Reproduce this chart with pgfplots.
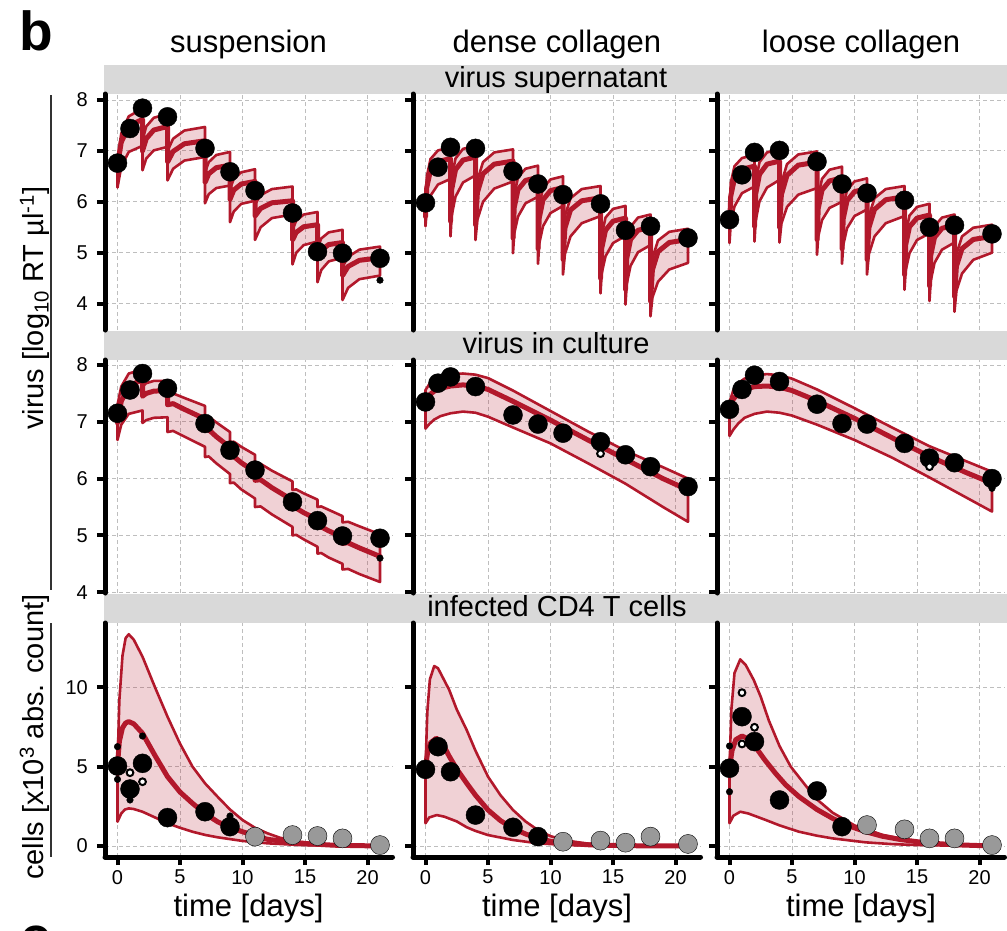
\documentclass[border=0pt]{standalone}
\usepackage{fontspec}
\setmainfont{Liberation Sans}
\usepackage{pgfplots}
\pgfplotsset{compat=1.18}
\definecolor{bandred}{RGB}{178,24,43}
\definecolor{gridgray}{RGB}{190,190,190}
\definecolor{stripgray}{RGB}{217,217,217}
\definecolor{ptgray}{RGB}{153,153,153}
\newcommand{\tlfont}{\fontsize{20}{20}\selectfont}
\pgfplotsset{
 panel/.style={
   scale only axis, width=287.5pt,
   xmin=-1, xmax=22,
   axis x line*=bottom, axis y line*=left,
   axis line style={-},
   xtick={0,5,10,15,20},
   grid=major,
   major grid style={gridgray, line width=1pt, dash pattern=on 4pt off 3pt},
   y axis line style={line width=5pt, line cap=round},
   x axis line style={line width=5pt, line cap=round},
   tick align=outside,
   major tick length=8pt,
   tick style={black, line width=4pt},
   /pgf/number format/assume math mode=true,
   xticklabel={\mbox{\tlfont\pgfmathprintnumber{\tick}}},
   yticklabel={\mbox{\tlfont\pgfmathprintnumber{\tick}}},
   xticklabel style={anchor=north, inner sep=0pt, yshift=-5pt},
   yticklabel style={anchor=east, inner sep=0pt, xshift=-9pt},
   clip marker paths=false,
 },
 norowx/.style={x axis line style={draw=none}, xticklabels={}, xtick style={draw=none}},
 nocoly/.style={yticklabels={}},
 row1/.style={height=236pt, ymin=3.481, ymax=8.118, ytick={4,5,6,7,8}},
 row2/.style={height=233pt, ymin=3.986, ymax=8.088, ytick={4,5,6,7,8}},
 row3/.style={height=234pt, ymin=-0.693, ymax=14.05, ytick={0,5,10}},
 band/.style={draw=bandred, line width=2.6pt, fill=bandred, fill opacity=0.2, line join=round, no markers},
 med/.style={draw=bandred, line width=5pt, line join=round, line cap=round, no markers},
 bigpt/.style={only marks, mark=*, mark size=9.5pt, mark options={draw=none, fill=black}},
 smallpt/.style={only marks, mark=*, mark size=3.3pt, mark options={draw=none, fill=black}},
 ringpt/.style={only marks, mark=*, mark size=3.4pt, mark options={draw=black, fill=white, line width=2pt}},
 graypt/.style={only marks, mark=*, mark size=9.5pt, mark options={draw=none, fill=ptgray}},
}
\begin{document}
\begin{tikzpicture}
\useasboundingbox (0,0) rectangle (1007pt,-930pt);
% strips
\fill[stripgray] (104pt,-65pt) rectangle (1007pt,-94pt);
\fill[stripgray] (104pt,-331pt) rectangle (1007pt,-360pt);
\fill[stripgray] (104pt,-594pt) rectangle (1007pt,-623pt);
\node[anchor=base, font=\fontsize{29}{34}\selectfont] at (556pt,-87pt) {virus supernatant};
\node[anchor=base, font=\fontsize{29}{34}\selectfont] at (556pt,-353pt) {virus in culture};
\node[anchor=base, font=\fontsize{29}{34}\selectfont] at (557pt,-616pt) {infected CD4 T cells};
% titles
\node[anchor=base west, inner sep=0pt, font=\fontsize{55}{60}\selectfont\bfseries] at (19.5pt,-50pt) {b};
\node[anchor=base west, inner sep=0pt, font=\fontsize{55}{60}\selectfont\bfseries] at (20pt,-955pt) {c};
\node[anchor=base, font=\fontsize{31}{36}\selectfont] at (248.5pt,-52pt) {suspension};
\node[anchor=base, font=\fontsize{31}{36}\selectfont] at (557pt,-52pt) {dense collagen};
\node[anchor=base, font=\fontsize{31}{36}\selectfont] at (861pt,-52pt) {loose collagen};
\foreach \cx in {248.5,557,861}{
  \node[anchor=base, font=\fontsize{31}{36}\selectfont] at (\cx pt,-916pt) {time [days]};
}
\node[rotate=90, anchor=base west, inner sep=0pt, font=\fontsize{29}{34}\selectfont] at (43pt,-430pt) {virus [log\textsubscript{10} RT µl\textsuperscript{-1}]};
\node[rotate=90, anchor=base west, inner sep=0pt, font=\fontsize{29}{34}\selectfont] at (43pt,-880pt) {cells [x10\textsuperscript{3} abs. count]};
\draw[line width=2pt, black!80] (51pt,-95pt) -- (51pt,-590pt);
\draw[line width=2pt, black!80] (51pt,-623pt) -- (51pt,-857pt);

% ===== Row 1 col 1 =====
\begin{axis}[panel, row1, norowx, at={(105pt,-94pt)}, anchor=north west]
\addplot[bigpt] coordinates {(0,6.76)(1,7.44)(2,7.84)(4,7.67)(7,7.05)(9,6.59)(11,6.22)(14,5.78)(16,5.02)(18,4.99)(21,4.89)};
\addplot[smallpt] coordinates {(21,4.46)};
\addplot[band] coordinates {
(0,6.85)(0.3,7.34)(0.9,7.68)(2,7.83)(2,7.22)(2.3,7.48)(2.9,7.65)(4,7.73)(4,7.0)(4.45,7.24)(5.35,7.40)(7,7.47)(7,6.58)(7.3,6.78)(7.9,6.92)(9,6.98)(9,6.25)(9.3,6.45)(9.9,6.58)(11,6.64)(11,5.95)(11.45,6.13)(12.35,6.25)(14,6.3)(14,5.45)(14.3,5.63)(14.9,5.75)(16,5.8)(16,5.1)(16.3,5.28)(16.9,5.40)(18,5.45)(18,4.72)(18.45,4.92)(19.35,5.06)(21,5.12)
(21,4.55)(19.35,4.48)(18.45,4.31)(18,4.07)(18,4.9)(16.9,4.83)(16.3,4.66)(16,4.42)(16,5.22)(14.9,5.15)(14.3,5.0)(14,4.77)(14,5.75)(12.35,5.68)(11.45,5.5)(11,5.25)(11,6.02)(9.9,5.96)(9.3,5.81)(9,5.6)(9,6.32)(7.9,6.27)(7.3,6.15)(7,5.97)(7,6.88)(5.35,6.81)(4.45,6.65)(4,6.42)(4,7.08)(2.9,7.01)(2.3,6.85)(2,6.62)(2,7.1)(0.9,6.98)(0.3,6.69)(0,6.28)} --cycle;
\addplot[med] coordinates {(0,6.72)(0.3,7.17)(0.9,7.49)(2,7.62)(2,7.0)(2.3,7.24)(2.9,7.41)(4,7.48)(4,6.78)(4.45,6.99)(5.35,7.14)(7,7.2)(7,6.38)(7.3,6.55)(7.9,6.67)(9,6.72)(9,6.05)(9.3,6.23)(9.9,6.35)(11,6.4)(11,5.72)(11.45,5.87)(12.35,5.98)(14,6.02)(14,5.25)(14.3,5.4)(14.9,5.51)(16,5.55)(16,4.9)(16.3,5.05)(16.9,5.16)(18,5.2)(18,4.55)(18.45,4.73)(19.35,4.85)(21,4.9)};
\end{axis}

% ===== Row 1 col 2 =====
\begin{axis}[panel, row1, norowx, nocoly, at={(413pt,-94pt)}, anchor=north west]
\addplot[bigpt] coordinates {(0,5.98)(1,6.68)(2,7.07)(4,7.05)(7,6.6)(9,6.35)(11,6.14)(14,5.96)(16,5.44)(18,5.52)(21,5.29)};
\addplot[band] coordinates {
(0,5.9)(0.1,6.49)(0.4,6.84)(1,7.01)(2,7.07)
(2,5.87)(2.1,6.49)(2.4,6.85)(3,7.04)(4,7.1)
(4,5.8)(4.15,6.42)(4.6,6.78)(5.5,6.97)(7,7.03)
(7,5.55)(7.1,6.13)(7.4,6.48)(8,6.65)(9,6.71)
(9,5.33)(9.1,5.92)(9.4,6.27)(10,6.44)(11,6.5)
(11,5.12)(11.15,5.72)(11.6,6.07)(12.5,6.25)(14,6.31)
(14,4.75)(14.1,5.34)(14.4,5.69)(15,5.86)(16,5.92)
(16,4.53)(16.1,5.14)(16.4,5.51)(17,5.69)(18,5.75)
(18,4.3)(18.15,4.89)(18.6,5.24)(19.5,5.41)(21,5.47)
(21,4.8)(19.5,4.67)(18.6,4.43)(18.15,4.12)(18,3.75)
(18,5.15)(17,5.01)(16.4,4.74)(16.1,4.39)(16,3.98)
(16,5.33)(15,5.19)(14.4,4.93)(14.1,4.6)(14,4.2)
(14,5.72)(12.5,5.58)(11.6,5.32)(11.15,4.97)(11,4.57)
(11,5.92)(10,5.78)(9.4,5.52)(9.1,5.18)(9,4.78)
(9,6.1)(8,5.97)(7.4,5.71)(7.1,5.38)(7,4.99)
(7,6.4)(5.5,6.26)(4.6,6.0)(4.15,5.65)(4,5.25)
(4,6.52)(3,6.38)(2.4,6.1)(2.1,5.74)(2,5.32)
(2,6.45)(1,6.34)(0.4,6.12)(0.1,5.85)(0,5.52)} --cycle;
\addplot[med] coordinates {(0,5.71)(0.1,6.28)(0.4,6.62)(1,6.79)(2,6.85)(2,5.62)(2.1,6.25)(2.4,6.63)(3,6.82)(4,6.88)(4,5.55)(4.15,6.18)(4.6,6.55)(5.5,6.74)(7,6.8)(7,5.29)(7.1,5.89)(7.4,6.24)(8,6.42)(9,6.48)(9,5.08)(9.1,5.68)(9.4,6.04)(10,6.22)(11,6.28)(11,4.87)(11.15,5.48)(11.6,5.84)(12.5,6.02)(14,6.08)(14,4.5)(14.1,5.09)(14.4,5.44)(15,5.62)(16,5.68)(16,4.28)(16.1,4.89)(16.4,5.26)(17,5.44)(18,5.5)(18,4.05)(18.15,4.66)(18.6,5.02)(19.5,5.2)(21,5.26)};
\end{axis}

% ===== Row 1 col 3 =====
\begin{axis}[panel, row1, norowx, nocoly, at={(717pt,-94pt)}, anchor=north west]
\addplot[bigpt] coordinates {(0,5.65)(1,6.53)(2,6.97)(4,7.01)(7,6.79)(9,6.35)(11,6.17)(14,6.03)(16,5.5)(18,5.54)(21,5.37)};
\addplot[band] coordinates {
(0,5.81)(0.1,6.37)(0.4,6.7)(1,6.86)(2,6.92)
(2,5.77)(2.1,6.4)(2.4,6.78)(3,6.97)(4,7.03)
(4,5.75)(4.15,6.37)(4.6,6.74)(5.5,6.93)(7,6.99)
(7,5.51)(7.1,6.1)(7.4,6.45)(8,6.63)(9,6.69)
(9,5.33)(9.1,5.9)(9.4,6.23)(10,6.4)(11,6.46)
(11,5.12)(11.15,5.72)(11.6,6.07)(12.5,6.25)(14,6.31)
(14,4.82)(14.1,5.39)(14.4,5.73)(15,5.9)(16,5.96)
(16,4.6)(16.1,5.18)(16.4,5.52)(17,5.69)(18,5.75)
(18,4.39)(18.15,4.97)(18.6,5.32)(19.5,5.49)(21,5.55)
(21,5.0)(19.5,4.86)(18.6,4.59)(18.15,4.25)(18,3.84)
(18,5.2)(17,5.06)(16.4,4.8)(16.1,4.45)(16,4.05)
(16,5.38)(15,5.25)(14.4,4.99)(14.1,4.66)(14,4.27)
(14,5.72)(12.5,5.58)(11.6,5.32)(11.15,4.97)(11,4.57)
(11,5.85)(10,5.72)(9.4,5.48)(9.1,5.15)(9,4.78)
(9,6.0)(8,5.88)(7.4,5.64)(7.1,5.32)(7,4.96)
(7,6.27)(5.5,6.14)(4.6,5.9)(4.15,5.57)(4,5.2)
(4,6.43)(3,6.28)(2.4,6.01)(2.1,5.64)(2,5.22)
(2,6.3)(1,6.17)(0.4,5.91)(0.1,5.58)(0,5.19)} --cycle;
\addplot[med] coordinates {(0,5.52)(0.1,6.11)(0.4,6.46)(1,6.64)(2,6.7)(2,5.52)(2.1,6.16)(2.4,6.54)(3,6.74)(4,6.8)(4,5.5)(4.15,6.14)(4.6,6.52)(5.5,6.72)(7,6.78)(7,5.26)(7.1,5.87)(7.4,6.23)(8,6.41)(9,6.47)(9,5.08)(9.1,5.67)(9.4,6.02)(10,6.2)(11,6.26)(11,4.87)(11.15,5.49)(11.6,5.85)(12.5,6.04)(14,6.1)(14,4.57)(14.1,5.16)(14.4,5.51)(15,5.68)(16,5.74)(16,4.35)(16.1,4.95)(16.4,5.3)(17,5.48)(18,5.54)(18,4.14)(18.15,4.73)(18.6,5.08)(19.5,5.26)(21,5.32)};
\end{axis}

% ===== Row 2 col 1 =====
\begin{axis}[panel, row2, norowx, at={(105pt,-360pt)}, anchor=north west]
\addplot[bigpt] coordinates {(0,7.15)(1,7.56)(2,7.85)(4,7.59)(7,6.97)(9,6.5)(11,6.15)(14,5.59)(16,5.26)(18,4.99)(21,4.95)};
\addplot[smallpt] coordinates {(21,4.6)};
\addplot[band] coordinates {
(0,7.3)(0.3,7.62)(0.9,7.85)(2,7.92)(2,7.62)(2.3,7.68)(2.9,7.72)(4,7.72)(4,7.48)(4.45,7.5)(5.35,7.42)(7,7.28)(7,7.08)(7.3,7.09)(7.9,6.99)(9,6.82)(9,6.64)(9.3,6.65)(9.9,6.56)(11,6.42)(11,6.25)(11.45,6.26)(12.35,6.14)(14,5.95)(14,5.8)(14.3,5.81)(14.9,5.74)(16,5.63)(16,5.5)(16.3,5.51)(16.9,5.45)(18,5.34)(18,5.23)(18.45,5.24)(19.35,5.16)(21,5.02)
(21,4.18)(19.35,4.32)(18.45,4.41)(18,4.4)(18,4.5)(16.9,4.61)(16.3,4.69)(16,4.68)(16,4.8)(14.9,4.93)(14.3,5.01)(14,5.0)(14,5.15)(12.35,5.37)(11.45,5.51)(11,5.5)(11,5.65)(9.9,5.81)(9.3,5.93)(9,5.92)(9,6.08)(7.9,6.27)(7.3,6.39)(7,6.38)(7,6.56)(5.35,6.74)(4.45,6.84)(4,6.82)(4,7.08)(2.9,7.07)(2.3,7.03)(2,6.98)(2,7.2)(0.9,7.14)(0.3,6.95)(0,6.68)} --cycle;
\addplot[med] coordinates {(0,6.98)(0.3,7.36)(0.9,7.63)(2,7.74)(2,7.45)(2.3,7.5)(2.9,7.54)(4,7.55)(4,7.3)(4.45,7.32)(5.35,7.22)(7,7.05)(7,6.85)(7.3,6.86)(7.9,6.74)(9,6.55)(9,6.38)(9.3,6.39)(9.9,6.28)(11,6.12)(11,5.97)(11.45,5.98)(12.35,5.84)(14,5.62)(14,5.47)(14.3,5.48)(14.9,5.4)(16,5.28)(16,5.14)(16.3,5.15)(16.9,5.08)(18,4.97)(18,4.86)(18.45,4.87)(19.35,4.78)(21,4.63)};
\end{axis}

% ===== Row 2 col 2 =====
\begin{axis}[panel, row2, norowx, nocoly, at={(413pt,-360pt)}, anchor=north west]
\addplot[bigpt] coordinates {(0,7.35)(1,7.68)(2,7.79)(4,7.62)(7,7.12)(9,6.96)(11,6.8)(14,6.65)(16,6.42)(18,6.21)(21,5.86)};
\addplot[ringpt] coordinates {(14,6.44)};
\addplot[band] coordinates {
(0,7.56)(0.3,7.66)(0.7,7.75)(1.2,7.8)(2,7.84)(3,7.85)(4,7.83)(5,7.77)(7,7.55)(10,7.19)(13,6.83)(16,6.49)(19,6.2)(21,6.0)
(21,5.24)(19,5.5)(16,5.91)(13,6.27)(10,6.62)(7,6.9)(5,7.09)(4,7.16)(3,7.18)(2,7.15)(1.2,7.1)(0.7,7.04)(0.3,6.96)(0,6.88)} --cycle;
\addplot[med] coordinates {(0,7.38)(0.3,7.47)(0.7,7.54)(1.2,7.59)(2,7.63)(3,7.65)(4,7.63)(5,7.57)(7,7.36)(10,7.03)(13,6.68)(16,6.34)(19,6.0)(21,5.8)};
\end{axis}

% ===== Row 2 col 3 =====
\begin{axis}[panel, row2, norowx, nocoly, at={(717pt,-360pt)}, anchor=north west]
\addplot[bigpt] coordinates {(0,7.22)(1,7.57)(2,7.82)(4,7.71)(7,7.31)(9,6.97)(11,6.96)(14,6.62)(16,6.36)(18,6.28)(21,6.0)};
\addplot[ringpt] coordinates {(16,6.21)};
\addplot[smallpt] coordinates {(21,5.83)};
\addplot[band] coordinates {
(0,7.35)(0.3,7.55)(0.7,7.68)(1.2,7.76)(2,7.82)(3,7.84)(4,7.82)(5,7.76)(7,7.57)(10,7.24)(13,6.9)(16,6.57)(19,6.3)(21,6.12)
(21,5.42)(19,5.66)(16,6.02)(13,6.37)(10,6.68)(7,6.95)(5,7.11)(4,7.16)(3,7.18)(2,7.14)(1.2,7.07)(0.7,6.97)(0.3,6.86)(0,6.75)} --cycle;
\addplot[med] coordinates {(0,7.24)(0.3,7.4)(0.7,7.5)(1.2,7.57)(2,7.62)(3,7.63)(4,7.61)(5,7.55)(7,7.37)(10,7.06)(13,6.72)(16,6.39)(19,6.1)(21,5.92)};
\end{axis}

% ===== Row 3 col 1 =====
\begin{axis}[panel, row3, at={(105pt,-623pt)}, anchor=north west]
\addplot[graypt] coordinates {(11,0.59)(14,0.69)(16,0.63)(18,0.48)(21,0.06)};
\addplot[bigpt] coordinates {(0,5.04)(1,3.59)(2,5.21)(4,1.79)(7,2.16)(9,1.22)};
\addplot[smallpt] coordinates {(0,6.26)(0,4.2)(1,2.9)(2,6.93)(9,1.89)};
\addplot[ringpt] coordinates {(1,4.62)(2,4.05)};
\addplot[band] coordinates {
(0,5.1)(0.15,9.2)(0.4,12.0)(0.65,13.1)(0.9,13.34)(1.3,13.0)(2,11.93)(3,10.0)(4,8.15)(5,6.45)(6,5.0)(7,3.95)(8,3.11)(9,2.3)(10,1.64)(11,1.15)(12,0.8)(13,0.52)(14.6,0.27)(17.3,0.06)(21,0.0)
(21,0.0)(17,0.02)(14.6,0.06)(12,0.17)(10,0.32)(8,0.55)(7,0.7)(6,0.9)(5,1.15)(4,1.43)(3,1.8)(2,2.16)(1.3,2.33)(0.9,2.37)(0.6,2.3)(0.3,2.05)(0,1.53)} --cycle;
\addplot[med] coordinates {(0,5.1)(0.15,6.6)(0.4,7.45)(0.65,7.75)(0.9,7.84)(1.3,7.7)(2,7.1)(3,5.7)(4,4.37)(5,3.4)(6,2.69)(7,2.05)(8,1.53)(9,1.17)(10,0.9)(12,0.42)(14.6,0.17)(17.3,0.05)(21,0.0)};
\end{axis}

% ===== Row 3 col 2 =====
\begin{axis}[panel, row3, nocoly, at={(413pt,-623pt)}, anchor=north west]
\addplot[graypt] coordinates {(11,0.27)(14,0.34)(16,0.21)(18,0.59)(21,0.13)};
\addplot[bigpt] coordinates {(0,4.83)(1,6.26)(2,4.68)(4,1.95)(7,1.18)(9,0.59)};
\addplot[band] coordinates {
(0,5.0)(0.15,8.5)(0.35,10.5)(0.7,11.34)(1.0,11.2)(1.9,9.83)(2.5,8.6)(3.3,7.3)(4,6.0)(5,4.37)(6,3.2)(7,2.27)(8,1.55)(9,1.0)(10,0.62)(11.3,0.34)(13,0.15)(14.6,0.08)(17,0.03)(21,0.0)
(21,0.0)(14,0.02)(11.3,0.06)(9,0.17)(7,0.38)(5,0.69)(4,0.95)(3.3,1.18)(2.5,1.55)(1.5,1.85)(0.9,1.95)(0.3,1.8)(0,1.43)} --cycle;
\addplot[med] coordinates {(0,5.0)(0.15,5.8)(0.4,6.5)(0.86,6.79)(1.3,6.55)(1.9,5.65)(2.5,4.85)(3.3,3.95)(4,3.2)(5,2.27)(6,1.6)(7,1.11)(8,0.76)(9,0.48)(10,0.3)(11.3,0.17)(13,0.08)(16,0.02)(21,0.0)};
\end{axis}

% ===== Row 3 col 3 =====
\begin{axis}[panel, row3, nocoly, at={(717pt,-623pt)}, anchor=north west]
\addplot[graypt] coordinates {(11,1.32)(14,1.05)(16,0.48)(18,0.48)(21,0.06)};
\addplot[bigpt] coordinates {(0,4.9)(1,8.15)(2,6.58)(4,2.9)(7,3.47)(9,1.22)};
\addplot[smallpt] coordinates {(0,6.3)(0,3.42)};
\addplot[ringpt] coordinates {(1,9.66)(1,6.43)(2,7.48)};
\addplot[band] coordinates {
(0,4.9)(0.15,8.6)(0.4,10.9)(0.86,11.76)(1.3,11.4)(1.94,10.46)(2.5,9.4)(3.15,7.9)(4,6.3)(4.9,5.0)(5.6,4.3)(6.9,3.0)(8.25,2.1)(10,1.3)(12.3,0.69)(15,0.27)(17.7,0.1)(21,0.0)
(21,0.0)(18,0.02)(15,0.06)(13,0.12)(10.9,0.23)(8.25,0.48)(7,0.65)(5.56,0.9)(4,1.3)(2.9,1.64)(1.5,2.05)(0.86,2.16)(0.3,1.9)(0,1.43)} --cycle;
\addplot[med] coordinates {(0,4.9)(0.2,6.0)(0.5,6.7)(1.0,6.93)(1.5,6.75)(2.06,6.26)(2.8,5.45)(3.68,4.58)(4.5,3.85)(5.56,3.11)(7,2.3)(8.25,1.74)(9.5,1.28)(10.9,0.9)(12.2,0.62)(13.6,0.42)(15,0.27)(16.3,0.17)(18,0.08)(21,0.0)};
\end{axis}
\end{tikzpicture}
\end{document}
